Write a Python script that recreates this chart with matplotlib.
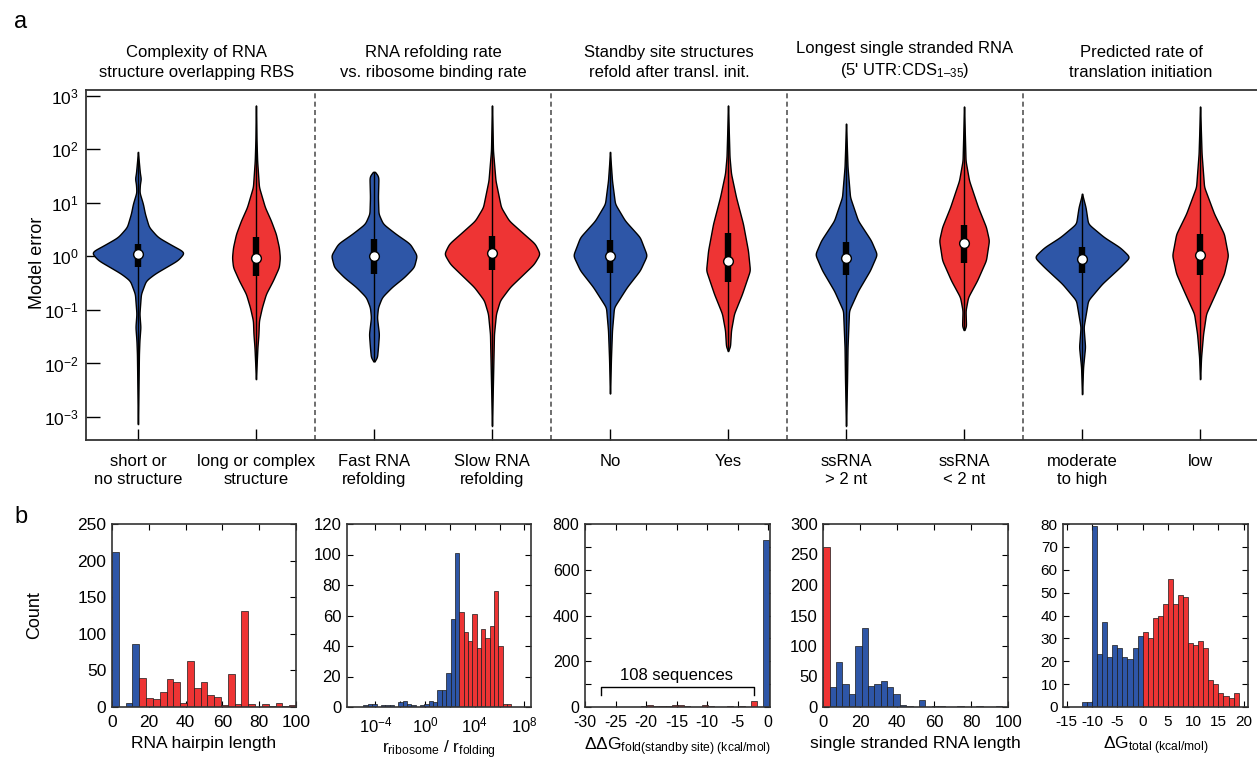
import numpy as np
import matplotlib
matplotlib.use('Agg')
import matplotlib.pyplot as plt
from matplotlib import transforms
from matplotlib.ticker import NullLocator

plt.rcParams['font.family'] = ['Liberation Sans', 'DejaVu Sans']
plt.rcParams['mathtext.fontset'] = 'custom'
plt.rcParams['mathtext.rm'] = 'Liberation Sans'
plt.rcParams['mathtext.it'] = 'Liberation Sans:italic'
plt.rcParams['mathtext.bf'] = 'Liberation Sans:bold'
plt.rcParams['mathtext.default'] = 'regular'
plt.rcParams['axes.unicode_minus'] = False

BLUE = '#2E56A7'
RED = '#EE3434'
EDGE = '#1a1a1a'

# ---------------- Panel a data ----------------
group_titles = ["Complexity of RNA\nstructure overlapping RBS",
                "RNA refolding rate\nvs. ribosome binding rate",
                "Standby site structures\nrefold after transl. init.",
                "Longest single stranded RNA\n(5' UTR:CDS$_{1\u201335}$)",
                "Predicted rate of\ntranslation initiation"]
category_labels = ["short or\nno structure", "long or complex\nstructure",
                   "Fast RNA\nrefolding", "Slow RNA\nrefolding",
                   "No", "Yes",
                   "ssRNA\n> 2 nt", "ssRNA\n< 2 nt",
                   "moderate\nto high", "low"]
violin_colors = [BLUE, RED] * 5

# violin density profiles: log10(model error) knots and relative half-widths
v1_log = [1.95, 1.55, 1.45, 1.36, 1.20, 0.985, 0.80, 0.55, 0.36, 0.20, 0.08, -0.07, -0.20, -0.32, -0.45, -0.70, -1.07, -1.32, -1.57, -1.82, -3.13]
v1_wid = [0, 2, 3, 2, 1.5, 5, 7, 11, 20, 35, 47, 40, 28, 17, 8, 3, 1.5, 2.5, 1.5, 1, 0]
v2_log = [2.82, 2.2, 1.79, 1.30, 0.92, 0.67, 0.42, 0.17, -0.02, -0.20, -0.45, -0.70, -0.95, -1.2, -1.45, -1.69, -2.29]
v2_wid = [0, 0.5, 1.2, 3, 9, 15, 20, 23, 24, 23, 17, 10, 6, 3, 2.5, 1.5, 0]
v3_log = [1.58, 1.55, 1.48, 1.11, 0.80, 0.61, 0.42, 0.24, 0.02, -0.20, -0.39, -0.57, -0.76, -0.95, -1.14, -1.45, -1.70, -1.90, -1.96]
v3_wid = [0, 3, 4.5, 4, 4.5, 9, 22, 36, 43, 40, 30, 18, 8, 4, 3, 5, 4, 3, 0]
v4_log = [2.82, 1.98, 1.42, 0.92, 0.67, 0.42, 0.24, 0.05, -0.14, -0.32, -0.57, -0.82, -1.07, -1.45, -2.32, -3.16]
v4_wid = [0, 1, 3.5, 9, 17, 32, 43, 48, 42, 32, 18, 8, 4, 2, 1, 0]
v5_log = [1.95, 1.42, 0.985, 0.67, 0.36, 0.02, -0.26, -0.57, -0.95, -1.38, -1.88, -2.56]
v5_wid = [0, 2, 5, 15, 30, 37, 30, 17, 4, 2, 1, 0]
v6_log = [2.82, 1.86, 1.55, 1.11, 0.61, 0.11, -0.26, -0.70, -1.07, -1.38, -1.69, -1.76]
v6_wid = [0, 1.5, 3, 8, 15, 20, 22, 14, 6, 3, 2, 0]
v7_log = [2.48, 1.67, 1.11, 0.67, 0.30, 0.04, -0.26, -0.64, -1.01, -1.69, -2.32, -3.16]
v7_wid = [0, 1.5, 4, 12, 25, 31, 24, 12, 3, 1.5, 1, 0]
v8_log = [2.80, 1.79, 1.42, 0.92, 0.55, 0.30, -0.07, -0.45, -0.76, -1.01, -1.32, -1.37]
v8_wid = [0, 1.5, 5, 14, 22, 25, 22, 13, 4, 1.5, 2, 0]
v9_log = [1.17, 0.92, 0.61, 0.36, 0.17, -0.01, -0.20, -0.51, -0.82, -1.32, -1.69, -2.07, -2.57]
v9_wid = [0, 3.5, 6, 22, 38, 48, 38, 20, 6, 1.5, 3, 1, 0]
v10_log = [2.80, 1.92, 1.30, 0.80, 0.42, 0.02, -0.32, -0.70, -1.07, -1.45, -1.88, -2.29]
v10_wid = [0, 1.5, 4, 14, 24, 28, 24, 15, 6, 3, 1, 0]

violin_logs = [v1_log, v2_log, v3_log, v4_log, v5_log, v6_log, v7_log, v8_log, v9_log, v10_log]
violin_wids = [v1_wid, v2_wid, v3_wid, v4_wid, v5_wid, v6_wid, v7_wid, v8_wid, v9_wid, v10_wid]

# box statistics (log10 model error)
box_q1 = [-0.20, -0.36, -0.32, -0.26, -0.31, -0.48, -0.34, -0.12, -0.31, -0.34]
box_med = [0.04, -0.02, 0.00, 0.06, 0.00, -0.09, -0.03, 0.26, -0.04, 0.02]
box_q3 = [0.24, 0.36, 0.33, 0.39, 0.30, 0.44, 0.27, 0.58, 0.17, 0.41]

# ---------------- Panel b data ----------------
hairpin_blue = [212, 0, 5, 86]
hairpin_red = [40, 12, 11, 20, 38, 34, 5, 63, 26, 34, 17, 14, 3, 45, 4, 131, 4, 0, 4, 1, 6, 1, 3]

rate_blue = [1, 2, 2, 0, 1, 1, 1, 0, 3, 4, 2, 1, 0, 1, 2, 4, 3, 11, 11, 22, 58, 101]
rate_red = [62, 49, 43, 61, 39, 51, 45, 53, 76, 40, 2, 2]

ddg_red = [0, 2, 1, 0, 2, 1, 0, 1, 1, 4, 7, 5, 3, 6, 10, 8, 4, 2, 2, 7, 5, 2, 1, 3, 1, 4, 1, 25, 0]
ddg_blue = [730]

ss_red = [262]
ss_blue = [33, 74, 38, 22, 100, 130, 35, 37, 43, 33, 21, 3, 1, 0, 11, 0, 1, 1, 0, 0, 1, 0, 0, 1, 0, 0, 1, 0]

dg_blue = [2, 2, 79, 23, 37, 22, 27, 26, 22, 21, 26, 31]
dg_red = [33, 30, 39, 40, 45, 56, 45, 49, 48, 28, 27, 29, 26, 12, 10, 6, 5, 4, 6]

# ---------------- Figure ----------------
W, H = 1257, 764
fig = plt.figure(figsize=(W / 100, H / 100), dpi=100)


def px_axes(x0, y0, x1, y1):
    return fig.add_axes([x0 / W, 1 - y1 / H, (x1 - x0) / W, (y1 - y0) / H])


SPINE = '#333333'

ax = px_axes(86, 90, 1265, 440)
ax.set_yscale('log')
ax.set_xlim(0.56, 10.55)
ax.set_ylim(10 ** -3.43, 10 ** 3.11)

PX_PER_UNIT = 118.3


def smooth_profile(logs, wids, n=700, sigma=0.035):
    lg = np.asarray(logs, float)[::-1]
    wd = np.asarray(wids, float)[::-1]
    grid = np.linspace(lg[0], lg[-1], n)
    w = np.interp(grid, lg, wd)
    step = grid[1] - grid[0]
    k = max(1, int(3 * sigma / step))
    kern = np.exp(-0.5 * ((np.arange(-k, k + 1) * step) / sigma) ** 2)
    kern /= kern.sum()
    ws = np.convolve(np.pad(w, k, mode='constant'), kern, mode='valid')
    return grid, ws


positions = np.arange(1, 11)
for i, xpos in enumerate(positions):
    grid, ws = smooth_profile(violin_logs[i], violin_wids[i])
    hw = ws / PX_PER_UNIT
    yv = 10 ** grid
    ax.fill_betweenx(yv, xpos - hw, xpos + hw, facecolor=violin_colors[i],
                     edgecolor='black', linewidth=1.0, zorder=2)
    ax.plot([xpos, xpos], [10 ** min(violin_logs[i]), 10 ** max(violin_logs[i])],
            color='black', lw=1.0, zorder=3)
    ax.plot([xpos, xpos], [10 ** box_q1[i], 10 ** box_q3[i]], color='black',
            lw=4.6, solid_capstyle='butt', zorder=4)
    ax.plot([xpos], [10 ** box_med[i]], 'o', ms=7, mfc='white', mec='black',
            mew=1.0, zorder=5)

for xs in [2.5, 4.5, 6.5, 8.5]:
    ax.axvline(xs, color='#555555', ls=(0, (3, 2)), lw=1.2, zorder=1)

ax.set_yticks([10.0 ** e for e in range(-3, 4)])
ax.set_yticklabels(['$10^{%d}$' % e for e in range(-3, 4)], fontsize=12.5)
ax.yaxis.set_minor_locator(NullLocator())
ax.set_xticks(positions)
ax.set_xticklabels(category_labels, fontsize=12, linespacing=1.3)
ax.tick_params(axis='y', direction='in', length=10, width=1, colors='black', pad=5)
ax.tick_params(axis='x', direction='in', length=8, width=1, pad=10)
for s in ['left', 'top', 'bottom']:
    ax.spines[s].set_color(SPINE)
    ax.spines[s].set_linewidth(1.3)
ax.spines['right'].set_visible(False)

trans = transforms.blended_transform_factory(ax.transData, ax.transAxes)
for g, title in enumerate(group_titles):
    ax.annotate(title, xy=(1.5 + 2 * g, 1.0), xycoords=trans, xytext=(0, 7),
                textcoords='offset points', ha='center', va='bottom',
                fontsize=12, linespacing=1.4)

fig.text(38 / W, 1 - 263 / H, 'Model error', rotation=90, ha='center',
         va='center', fontsize=13)
fig.text(14 / W, 1 - 22 / H, 'a', fontsize=17, ha='left', va='center')
fig.text(14 / W, 1 - 517 / H, 'b', fontsize=17, ha='left', va='center')

# ---------------- Panel b ----------------
hist_x = [(112, 296), (346.7, 530.7), (585, 770), (823.3, 1008.3), (1063.3, 1247.7)]
hax = [px_axes(x0, 524, x1, 707) for (x0, x1) in hist_x]


def style_hist(a, size=12):
    a.tick_params(direction='in', top=True, right=True, length=4, width=0.8,
                  labelsize=size)
    a.tick_params(axis='x', pad=6)
    a.tick_params(axis='y', pad=4)
    for s in a.spines.values():
        s.set_color(SPINE)
        s.set_linewidth(1.2)


def bars(a, start, width, counts, color, log=False):
    counts = np.asarray(counts)
    edges = start + width * np.arange(len(counts) + 1)
    if log:
        left = 10.0 ** edges[:-1]
        wd = 10.0 ** edges[1:] - left
    else:
        left = edges[:-1]
        wd = np.full(len(counts), width)
    a.bar(left, counts, width=wd, align='edge', color=color, edgecolor=EDGE,
          linewidth=0.5, zorder=2)


# 1: hairpin length
a = hax[0]
wbin = 100 / 27
bars(a, 0, wbin, hairpin_blue, BLUE)
bars(a, 4 * wbin, wbin, hairpin_red, RED)
a.set_xlim(0, 100)
a.set_ylim(0, 250)
a.set_xticks(range(0, 101, 20))
a.set_yticks(range(0, 251, 50))
a.set_xlabel('RNA hairpin length', fontsize=12.5, labelpad=4)
style_hist(a, 12.5)

# 2: rate ratio
a = hax[1]
a.set_xscale('log')
rw = 0.35
bars(a, 2.75 - rw * len(rate_blue), rw, rate_blue, BLUE, log=True)
bars(a, 2.75, rw, rate_red, RED, log=True)
a.set_xlim(10 ** -6.3, 10 ** 8.5)
a.set_ylim(0, 120)
a.set_xticks([10.0 ** e for e in range(-4, 9, 2)])
a.set_xticklabels(['$10^{%d}$' % e if e % 4 == 0 else '' for e in range(-4, 9, 2)])
a.xaxis.set_minor_locator(NullLocator())
a.set_yticks(range(0, 121, 20))
a.set_xlabel('r$_{ribosome}$ / r$_{folding}$', fontsize=12.5, labelpad=2)
style_hist(a)

# 3: ddG standby site
a = hax[2]
bars(a, -29.8, 1.0, ddg_red, RED)
bars(a, -0.8, 1.0, ddg_blue, BLUE)
a.set_xlim(-30, 0.3)
a.set_ylim(0, 800)
a.set_xticks(range(-30, 1, 5))
a.set_yticks(range(0, 801, 100))
a.set_yticklabels([str(v) if v % 200 == 0 else '' for v in range(0, 801, 100)])
a.set_xlabel('\u0394\u0394G$_{fold(standby\\ site)\\ (kcal/mol)}$', fontsize=12.5, labelpad=4)
a.plot([-27.4, -27.4, -2.3, -2.3], [51, 87, 87, 51], color='black', lw=1.0, zorder=3)
a.text(-15.0, 105, '108 sequences', ha='center', va='bottom', fontsize=12)
style_hist(a, 11.5)

# 4: single stranded RNA length
a = hax[3]
sw = 100 / 29
bars(a, 0, sw, ss_red, RED)
bars(a, sw, sw, ss_blue, BLUE)
a.set_xlim(0, 100)
a.set_ylim(0, 300)
a.set_xticks(range(0, 101, 20))
a.set_yticks(range(0, 301, 50))
a.set_xlabel('single stranded RNA length', fontsize=12.5, labelpad=4)
style_hist(a)

# 5: dG total
a = hax[4]
bars(a, -len(dg_blue), 1.0, dg_blue, BLUE)
bars(a, 0, 1.0, dg_red, RED)
a.set_xlim(-15.7, 20.8)
a.set_ylim(0, 80)
a.set_xticks(range(-15, 21, 5))
a.set_yticks(range(0, 81, 10))
a.set_xlabel('\u0394G$_{total\\ (kcal/mol)}$', fontsize=12.5, labelpad=4)
style_hist(a, 11)

fig.text(35 / W, 1 - 615 / H, 'Count', rotation=90, ha='center', va='center', fontsize=13)

fig.savefig('out.png', dpi=100)
